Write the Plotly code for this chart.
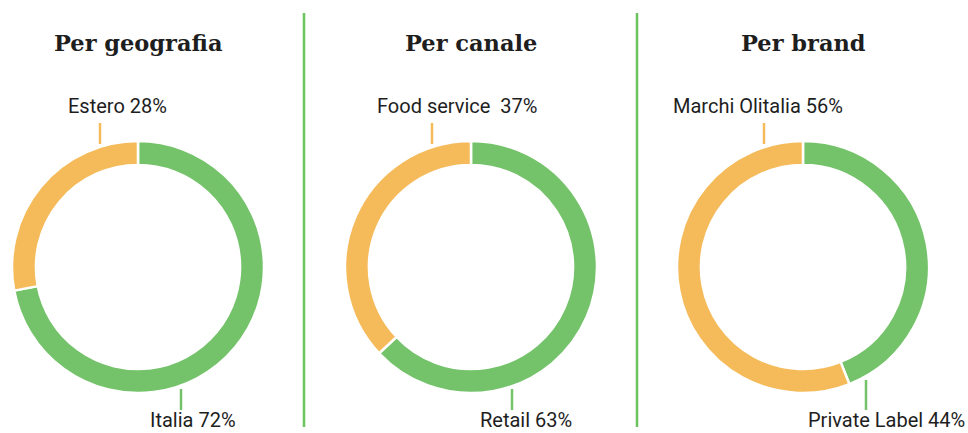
import plotly.graph_objects as go

W, H = 968, 433

# ---- data ----
titles = ["Per geografia", "Per canale", "Per brand"]
green_labels = ["Italia", "Retail", "Private Label"]
green_values = [72, 63, 44]
orange_labels = ["Estero", "Food service ", "Marchi Olitalia"]
orange_values = [28, 37, 56]

GREEN = "#74C36A"
ORANGE = "#F5BB5A"
TEXT = "#1E1E1E"

# ---- layout helpers (pixels -> paper) ----
def px(x):
    return x / W

def py(y):
    return 1 - y / H

centers = [138, 471, 803]
radius = 126
cy = 267

# label / tick layout per panel (pixel positions)
top_label_x = [117, 457, 758]
top_tick_x = [100, 432, 764]
bot_label_x = [193, 526, 886]
bot_tick_x = [181, 512, 866]
bot_tick_top = [389, 389, 380]

fig = go.Figure()
shapes = []
annotations = []

for i, title in enumerate(titles):
    cx = centers[i]
    fig.add_trace(go.Pie(
        labels=[green_labels[i], orange_labels[i]],
        values=[green_values[i], orange_values[i]],
        hole=0.81,
        sort=False,
        direction="clockwise",
        rotation=0,
        marker=dict(colors=[GREEN, ORANGE], line=dict(color="white", width=2.5)),
        textinfo="none",
        showlegend=False,
        domain=dict(x=[px(cx - radius), px(cx + radius)], y=[py(cy + radius), py(cy - radius)]),
    ))
    annotations.append(dict(
        text=f"<b>{title}</b>", x=px(cx), y=py(43), xref="paper", yref="paper",
        showarrow=False, xanchor="center", yanchor="middle",
        font=dict(family="DejaVu Serif", size=22.5, color=TEXT),
    ))
    annotations.append(dict(
        text=f"{orange_labels[i]} {orange_values[i]}%", x=px(top_label_x[i]), y=py(106),
        xref="paper", yref="paper", showarrow=False, xanchor="center", yanchor="middle",
        font=dict(family="Roboto", size=20, color=TEXT),
    ))
    annotations.append(dict(
        text=f"{green_labels[i]} {green_values[i]}%", x=px(bot_label_x[i]), y=0,
        xref="paper", yref="paper", showarrow=False, xanchor="center", yanchor="bottom",
        borderpad=0,
        font=dict(family="Roboto", size=20, color=TEXT),
    ))
    shapes.append(dict(type="line", xref="paper", yref="paper",
                       x0=px(top_tick_x[i]), x1=px(top_tick_x[i]), y0=py(123), y1=py(144),
                       line=dict(color=ORANGE, width=2.5)))
    shapes.append(dict(type="line", xref="paper", yref="paper",
                       x0=px(bot_tick_x[i]), x1=px(bot_tick_x[i]), y0=py(bot_tick_top[i]), y1=py(410),
                       line=dict(color=GREEN, width=2.5)))

for sx in [304, 637]:
    shapes.append(dict(type="line", xref="paper", yref="paper",
                       x0=px(sx), x1=px(sx), y0=py(13), y1=py(427),
                       line=dict(color="#6CC45E", width=2.5)))

fig.update_layout(
    width=W, height=H,
    margin=dict(l=0, r=0, t=0, b=0),
    paper_bgcolor="white", plot_bgcolor="white",
    shapes=shapes, annotations=annotations,
)

fig.write_html("out.html", config={"displayModeBar": False},
               post_script="document.body.style.margin='0px';")
